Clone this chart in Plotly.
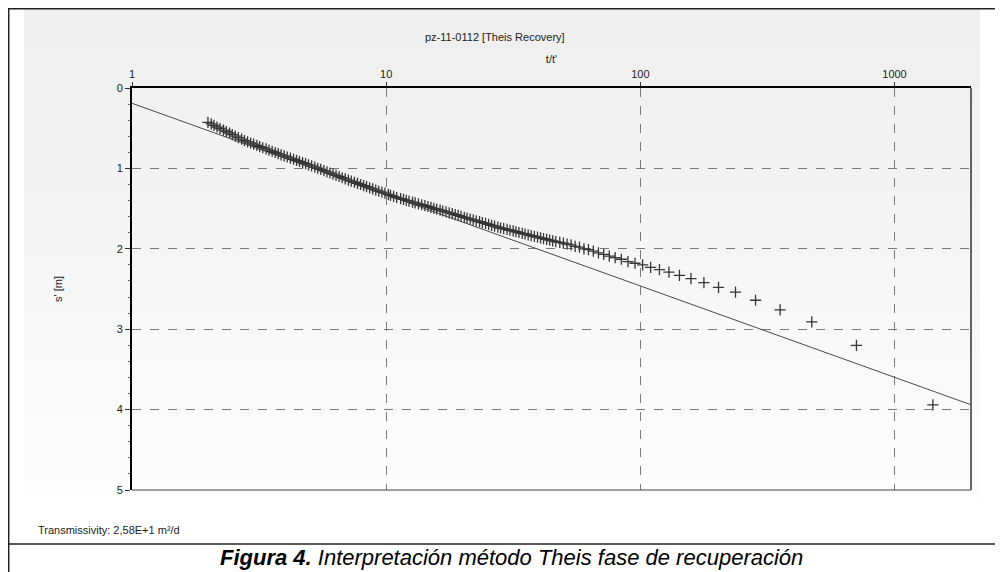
import plotly.graph_objects as go

# ---------------- data ----------------
# t/t' values of the recovery observations
obs_tt = [1416, 708.5, 472.7, 354.8, 284.0, 236.8, 203.1, 177.9, 158.2, 142.5,
          129.6, 118.9, 109.8, 102.1, 95.3, 89.4, 84.2, 79.6, 75.5, 71.75,
          68.4, 65.3, 62.5, 60.0, 57.6, 55.4, 53.4, 51.5, 49.8, 48.2,
          46.5, 45.2, 44.0, 42.8, 41.6, 40.5, 39.4, 38.3, 37.2, 36.2,
          35.2, 34.3, 33.3, 32.4, 31.6, 30.7, 29.9, 29.0, 28.2, 27.5,
          26.7, 26.0, 25.3, 24.6, 23.9, 23.3, 22.6, 22.0, 21.4, 20.8,
          20.3, 19.7, 19.2, 18.7, 18.2, 17.7, 17.2, 16.7, 16.3, 15.8,
          15.4, 15.0, 14.6, 14.2, 13.8, 13.4, 13.0, 12.7, 12.3, 12.0,
          11.7, 11.4, 11.0, 10.7, 10.4, 10.2, 9.89, 9.62, 9.35, 9.10,
          8.85, 8.61, 8.37, 8.15, 7.93, 7.71, 7.50, 7.29, 7.10, 6.90,
          6.71, 6.53, 6.35, 6.18, 6.01, 5.85, 5.69, 5.53, 5.38, 5.24,
          5.09, 4.95, 4.82, 4.69, 4.56, 4.44, 4.32, 4.20, 4.08, 3.97,
          3.86, 3.76, 3.66, 3.56, 3.46, 3.37, 3.27, 3.18, 3.10, 3.01,
          2.93, 2.85, 2.77, 2.70, 2.62, 2.55, 2.48, 2.42, 2.35, 2.29,
          2.22, 2.16, 2.10, 2.05, 1.99]
# residual drawdown s' [m]
obs_s = [3.94, 3.20, 2.91, 2.76, 2.64, 2.54, 2.48, 2.42, 2.37, 2.33,
         2.29, 2.26, 2.23, 2.20, 2.18, 2.16, 2.13, 2.11, 2.09, 2.07,
         2.05, 2.03, 2.01, 2.00, 1.98, 1.97, 1.95, 1.94, 1.93, 1.92,
         1.912, 1.901, 1.892, 1.883, 1.873, 1.864, 1.854, 1.845, 1.835, 1.826,
         1.816, 1.807, 1.797, 1.788, 1.778, 1.769, 1.759, 1.750, 1.741, 1.730,
         1.719, 1.708, 1.697, 1.685, 1.674, 1.663, 1.652, 1.641, 1.630, 1.619,
         1.608, 1.597, 1.585, 1.574, 1.563, 1.552, 1.541, 1.530, 1.519, 1.508,
         1.497, 1.485, 1.474, 1.463, 1.452, 1.441, 1.430, 1.419, 1.408, 1.397,
         1.386, 1.375, 1.362, 1.348, 1.335, 1.322, 1.308, 1.295, 1.282, 1.269,
         1.255, 1.241, 1.227, 1.214, 1.200, 1.186, 1.172, 1.158, 1.145, 1.131,
         1.116, 1.101, 1.087, 1.072, 1.057, 1.042, 1.027, 1.013, 0.998, 0.983,
         0.968, 0.955, 0.941, 0.927, 0.913, 0.900, 0.886, 0.872, 0.858, 0.845,
         0.831, 0.817, 0.802, 0.787, 0.772, 0.758, 0.743, 0.728, 0.713, 0.698,
         0.684, 0.669, 0.654, 0.636, 0.617, 0.598, 0.579, 0.560, 0.541, 0.523,
         0.504, 0.485, 0.466, 0.447, 0.428]

# straight-line (Theis recovery) fit
fit_tt = [1, 2000]
fit_s = [0.19, 3.94]

x_ticks = [1, 10, 100, 1000]
x_tick_labels = ["1", "10", "100", "1000"]
y_ticks = [0, 1, 2, 3, 4, 5]

title_text = "pz-11-0112 [Theis Recovery]"
x_title = "t/t'"
y_title = "s' [m]"
note_text = "Transmissivity: 2,58E+1 m²/d"
caption_bold = "Figura 4."
caption_rest = " Interpretación método Theis fase de recuperación"

# ---------------- figure ----------------
# The page puts the figure 8 px in from the top-left corner, so the figure is
# sized and laid out in window pixels minus that offset.
OFF = 8
W, H = 1003 - OFF, 572 - OFF
L, R, T, B = 132 - OFF, 971 - OFF, 88 - OFF, 490 - OFF
FONT = "Arial, Liberation Sans, sans-serif"

fig = go.Figure()

fig.add_trace(go.Scatter(
    x=fit_tt, y=fit_s, mode="lines",
    line=dict(color="#4a4a4a", width=1), hoverinfo="skip", showlegend=False))

fig.add_trace(go.Scatter(
    x=obs_tt, y=obs_s, mode="markers",
    marker=dict(symbol="cross-thin", size=8,
                line=dict(color="#353535", width=1.3)),
    showlegend=False))

# convert window pixels to paper (plot-domain) coordinates
def px_x(p):
    return (p - OFF - L) / (R - L)

def px_y(p):
    return (B - (p - OFF)) / (B - T)

shapes = []
# gradient panel (light grey at top fading to white)
panel_x0, panel_x1, panel_y0, panel_y1 = 24, 980, 9, 498
nb = 24
for i in range(nb):
    y0 = panel_y0 + (panel_y1 - panel_y0) * i / nb
    y1 = panel_y0 + (panel_y1 - panel_y0) * (i + 1) / nb + 0.5
    g = int(239 + (253 - 239) * i / (nb - 1))
    shapes.append(dict(type="rect", xref="paper", yref="paper", layer="below",
                       x0=px_x(panel_x0), x1=px_x(panel_x1),
                       y0=px_y(y1), y1=px_y(y0),
                       line=dict(width=0), fillcolor=f"rgb({g},{g},{g})"))
# outer frame lines
shapes.append(dict(type="line", xref="paper", yref="paper",
                   x0=px_x(8), x1=px_x(1010), y0=px_y(8.7), y1=px_y(8.7),
                   line=dict(color="#222", width=1.5)))
shapes.append(dict(type="line", xref="paper", yref="paper",
                   x0=px_x(8.7), x1=px_x(8.7), y0=px_y(580), y1=px_y(8),
                   line=dict(color="#222", width=1.5)))
shapes.append(dict(type="line", xref="paper", yref="paper",
                   x0=px_x(8), x1=px_x(1010), y0=px_y(544), y1=px_y(544),
                   line=dict(color="#222", width=1.5)))
# right and bottom plot borders
shapes.append(dict(type="line", xref="paper", yref="paper",
                   x0=1, x1=1, y0=0, y1=1,
                   line=dict(color="#333", width=1.5)))
shapes.append(dict(type="line", xref="paper", yref="paper",
                   x0=0, x1=1, y0=0, y1=0,
                   line=dict(color="#444", width=1.2)))

annotations = [
    dict(text=title_text, xref="paper", yref="paper", x=px_x(495), y=px_y(37),
         showarrow=False, xanchor="center", yanchor="middle",
         font=dict(family=FONT, size=11, color="#222")),
    dict(text=note_text, xref="paper", yref="paper", x=px_x(36), y=px_y(530),
         showarrow=False, xanchor="left", yanchor="middle",
         font=dict(family=FONT, size=11, color="#222")),
    dict(text=f"<b><i>{caption_bold}</i></b><i>{caption_rest}</i>",
         xref="paper", yref="paper", x=px_x(511), y=px_y(557),
         showarrow=False, xanchor="center", yanchor="middle",
         font=dict(family=FONT, size=22, color="#000")),
]

fig.update_layout(
    width=W, height=H,
    margin=dict(l=L, r=W - R, t=T, b=H - B, autoexpand=False),
    paper_bgcolor="white", plot_bgcolor="rgba(0,0,0,0)",
    font=dict(family=FONT, size=11, color="#222"),
    shapes=shapes, annotations=annotations, showlegend=False,
)

fig.update_xaxes(
    type="log", side="top", range=[0, 3.301],
    tickmode="array", tickvals=x_ticks, ticktext=x_tick_labels,
    ticks="outside", ticklen=4, tickcolor="#333",
    showline=True, linecolor="#000", linewidth=2,
    showgrid=True, gridcolor="#7a7a7a", gridwidth=1, griddash="dash",
    zeroline=False,
    title=dict(text=x_title, font=dict(family=FONT, size=11, color="#222"),
               standoff=2),
    tickfont=dict(family=FONT, size=11, color="#222"),
)
fig.update_yaxes(
    range=[5, 0], tickmode="array", tickvals=y_ticks,
    ticks="outside", ticklen=5, tickcolor="#333",
    minor=dict(dtick=0.2, ticks="outside", ticklen=2, tickcolor="#666",
               showgrid=False),
    showline=True, linecolor="#000", linewidth=2,
    showgrid=True, gridcolor="#7a7a7a", gridwidth=1, griddash="dash",
    zeroline=False,
    title=dict(text=y_title, font=dict(family=FONT, size=11, color="#222"),
               standoff=52),
    tickfont=dict(family=FONT, size=11, color="#222"),
)

fig.write_html("out.html")
